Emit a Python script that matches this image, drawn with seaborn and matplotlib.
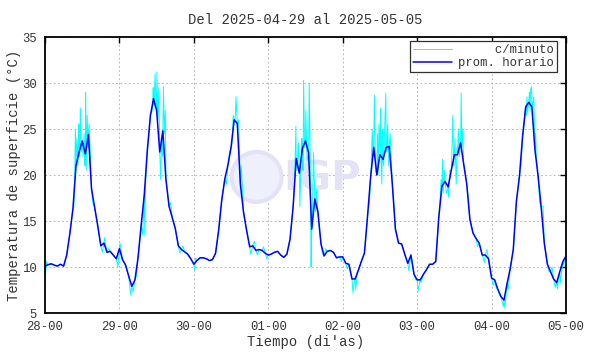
import matplotlib
matplotlib.use("Agg")
import matplotlib.pyplot as plt
from matplotlib.patches import Ellipse
import numpy as np
import pandas as pd
import seaborn as sns

# %% Data
title = "Del 2025-04-29 al 2025-05-05"
day_labels = ["28-00", "29-00", "30-00", "01-00", "02-00", "03-00", "04-00", "05-00"]

# hourly mean surface temperature (degC), one value per hour from 28-00 to 05-00
hourly_vals = [
    10.1, 10.25, 10.35, 10.2, 10.1, 10.3, 10.1, 11.3, 13.6, 16.3, 21.0, 22.5,
    23.7, 22.3, 24.4, 18.5, 16.5, 14.5, 12.3, 12.6, 11.6, 11.7, 11.3, 10.9,
    12.0, 10.8, 10.2, 9.0, 7.9, 8.6, 11.0, 14.5, 17.8, 22.7, 26.5, 28.3,
    27.0, 22.5, 24.8, 19.5, 16.6, 15.4, 14.2, 12.3, 11.9, 11.65, 11.4, 10.9,
    10.3, 10.7, 11.0, 11.0, 10.9, 10.7, 10.8, 11.5, 14.0, 17.3, 19.6, 21.1,
    23.0, 26.0, 25.6, 19.0, 16.0, 14.0, 12.2, 12.3, 11.8, 11.9, 11.8, 11.5,
    11.3, 11.4, 11.6, 11.7, 11.3, 11.05, 11.4, 13.0, 16.5, 21.8, 20.2, 22.9,
    23.7, 22.4, 14.1, 17.4, 16.0, 12.5, 11.2, 11.7, 11.8, 11.6, 11.0, 11.1,
    11.1, 10.4, 10.3, 8.7, 8.7, 9.6, 10.6, 11.5, 15.5, 19.8, 23.0, 20.0,
    22.2, 21.7, 23.0, 23.1, 19.0, 14.1, 12.6, 12.5, 11.4, 10.4, 11.3, 9.2,
    8.6, 8.6, 9.2, 9.7, 10.3, 10.3, 10.6, 15.5, 18.8, 19.3, 18.7, 20.5,
    22.2, 22.2, 23.5, 21.2, 19.0, 15.2, 13.7, 13.1, 12.6, 11.3, 11.3, 10.9,
    8.8, 8.6, 7.6, 6.8, 6.4, 8.2, 9.8, 11.9, 17.1, 19.9, 24.2, 27.4,
    27.9, 27.4, 22.7, 19.9, 16.5, 12.6, 10.3, 9.5, 8.7, 8.3, 9.5, 10.6,
    11.2,
]

# extra per-minute readings (spikes) of the raw series, hour from start
minute_hours = [
    0.2, 0.5, 9.3, 9.6, 9.8, 10.3, 10.6, 10.9, 11.2, 11.4, 11.7, 12.3, 12.6, 12.9,
    13.1, 13.3, 13.6, 13.9, 14.2, 14.6, 15.4, 18.5, 19.2, 20.5, 23.5, 24.2,
    26.5, 27.6, 28.4, 29.5, 31.5, 32.2, 32.4, 34.6, 34.9, 35.2, 35.5, 35.8,
    36.1, 36.4, 36.7, 37.3, 37.6, 37.9, 38.2, 38.5, 38.8, 39.2, 40.5, 43.5,
    44.5, 48.2, 48.6, 58.5, 59.5, 60.3, 60.7, 61.3, 61.6, 62.4, 63.3, 66.3,
    67.5, 68.5, 70.5, 71.5, 80.5, 80.9, 81.3, 81.7, 82.2, 82.5, 82.8, 83.2,
    83.4, 83.7, 84.1, 84.5, 85.2, 85.5, 85.8, 86.2, 86.6, 87.3, 87.6, 88.5,
    89.5, 90.5, 95.5, 97.5, 99.3, 99.7, 100.2, 100.7, 104.6, 105.2, 105.5,
    105.8, 106.2, 106.5, 106.7, 107.2, 107.4, 107.7, 108.2, 108.4, 108.6,
    108.9, 109.2, 109.6, 109.9, 110.2, 110.5, 110.8, 111.3, 111.7, 113.5,
    116.5, 117.3, 119.5, 120.3, 121.3, 127.3, 127.7, 128.2, 128.4, 128.8,
    129.4, 130.1, 130.5, 131.2, 131.5, 131.8, 132.2, 132.6, 132.9, 133.3,
    133.6, 134.2, 134.4, 134.7, 135.4, 136.5, 139.5, 141.7, 142.5, 143.5,
    144.5, 145.5, 146.5, 147.8, 148.3, 149.3, 152.5, 153.5, 154.5, 155.2,
    155.4, 155.6, 156.2, 156.4, 156.6, 156.9, 157.2, 157.6, 158.2, 158.4,
    159.5, 160.6, 162.5, 163.5, 164.5, 165.2, 165.5, 166.2, 167.2,
]
minute_vals = [
    9.3, 10.6, 16.5, 20.5, 25.0, 24.0, 21.0, 25.5, 22.0, 27.3, 22.5, 22.0, 24.5, 21.0,
    29.0, 20.5, 26.5, 23.0, 25.5, 22.5, 17.0, 11.6, 13.2, 12.0, 10.0, 12.6,
    9.5, 7.0, 7.3, 9.0, 13.5, 13.4, 19.0, 27.0, 29.5, 27.5, 31.0, 28.0,
    31.2, 26.0, 29.5, 19.5, 24.0, 22.0, 29.6, 24.5, 27.0, 19.0, 17.0, 11.5,
    12.3, 9.7, 11.0, 19.0, 22.5, 23.5, 26.5, 26.0, 28.5, 26.0, 21.0, 11.4,
    12.8, 11.3, 12.2, 10.9, 19.5, 25.3, 20.5, 23.5, 16.6, 21.0, 24.0, 20.5,
    30.3, 23.0, 27.0, 21.5, 30.0, 22.0, 10.0, 15.0, 22.4, 16.0, 18.5, 14.0,
    11.5, 12.0, 10.6, 9.8, 7.2, 8.3, 7.5, 9.5, 17.0, 21.0, 25.0,
    22.0, 28.7, 22.5, 20.4, 24.5, 20.0, 25.5, 27.3, 21.5, 19.0,
    25.0, 21.0, 26.0, 28.9, 22.5, 25.5, 21.0, 24.5, 21.5, 13.5,
    10.8, 9.6, 8.6, 7.4, 8.3, 16.5, 19.5, 21.7, 18.0, 20.5,
    18.0, 17.6, 20.5, 22.5, 26.5, 21.0, 24.0, 19.0, 23.0, 25.0,
    22.0, 28.9, 23.0, 25.0, 20.5, 17.5, 12.2, 10.5, 11.9, 10.0,
    8.0, 7.7, 7.0, 5.7, 5.5, 7.5, 18.5, 21.0, 25.5, 26.5,
    28.5, 26.8, 29.0, 27.0, 29.3, 29.6, 27.5, 28.5, 24.5, 22.0,
    17.0, 16.6, 9.5, 10.0, 7.8, 7.6, 8.5, 8.3, 10.2,
]

# %% Build frames
hourly = pd.DataFrame({"h": np.arange(len(hourly_vals)), "T": hourly_vals})
minute = pd.concat([hourly, pd.DataFrame({"h": minute_hours, "T": minute_vals})])
minute = minute.sort_values("h").reset_index(drop=True)

# %% Figure
sns.set_style("white")
plt.rcParams["font.family"] = ["Liberation Mono", "DejaVu Sans Mono"]
txt = "#333333"

fig = plt.figure(figsize=(5.9, 3.54), dpi=100)
fig.subplots_adjust(left=45 / 590, right=566 / 590, top=1 - 37 / 354, bottom=1 - 313 / 354)
ax = fig.add_subplot(111)

# faint IGP watermark
ax.add_patch(Ellipse((0.406, 0.493), 50 / 521, 50 / 276, transform=ax.transAxes,
                     facecolor="#eef1fc", edgecolor="#e3e3f5", lw=3, zorder=1.5))
ax.text(0.531, 0.483, "IGP", transform=ax.transAxes, ha="center", va="center",
        fontsize=29, fontweight="bold", family="DejaVu Sans", color="#e4e3f5", zorder=1.5)

sns.lineplot(data=minute, x="h", y="T", ax=ax, color="#00ffff", lw=0.7,
             label="     c/minuto", estimator=None, sort=False, zorder=3)
sns.lineplot(data=hourly, x="h", y="T", ax=ax, color="#0000ff", lw=1.1,
             label="prom. horario", estimator=None, sort=False, zorder=4)

ax.set_xlim(0, 168)
ax.set_ylim(5, 35)
ax.set_xticks(np.arange(0, 169, 24))
ax.set_xticklabels(day_labels)
ax.set_yticks(np.arange(5, 36, 5))

ax.grid(True, color="#a8a8a8", linestyle=(0, (2, 3)), lw=0.6)
ax.set_axisbelow(True)
for s in ax.spines.values():
    s.set_color("black")
    s.set_linewidth(1.3)
    s.set_zorder(5)

ax.tick_params(axis="both", direction="in", length=4, width=1, color="black",
               top=True, right=True, labelsize=8.8, labelcolor=txt)
ax.tick_params(axis="x", pad=6)
ax.tick_params(axis="y", pad=6)

ax.set_xlabel("Tiempo (di'as)", fontsize=10, color=txt, labelpad=1)
ax.set_ylabel("Temperatura de superficie (°C)", fontsize=10, color=txt, labelpad=1)
ax.set_title(title, fontsize=10, color=txt, pad=9)

leg = ax.legend(loc="upper right", bbox_to_anchor=(1 - 9 / 521, 1 - 4 / 276),
                borderaxespad=0, fontsize=8.8, handlelength=3.2, handletextpad=0.5,
                borderpad=0.25, labelspacing=0.1, fancybox=False, framealpha=1,
                edgecolor="#303030")
leg.get_frame().set_linewidth(0.9)
for t in leg.get_texts():
    t.set_color(txt)

fig.savefig("out.png", dpi=100)
